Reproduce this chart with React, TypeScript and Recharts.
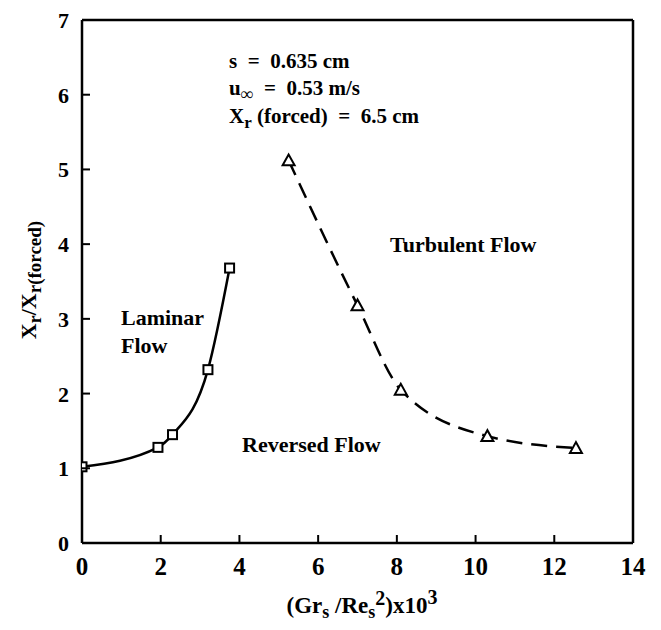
import { LineChart, Line, XAxis, YAxis, Customized } from 'recharts';

// laminar branch (squares, solid curve)
const laminarX = [0, 1.93, 2.3, 3.2, 3.75];
const laminarY = [1.02, 1.28, 1.45, 2.32, 3.68];

// turbulent branch (triangles, dashed curve)
const turbulentX = [5.25, 7.0, 8.1, 10.3, 12.55];
const turbulentY = [5.12, 3.18, 2.05, 1.43, 1.27];

const xTicks = [0, 2, 4, 6, 8, 10, 12, 14];
const yTicks = [0, 1, 2, 3, 4, 5, 6, 7];

const laminar = laminarX.map((x, i) => ({ x, y: laminarY[i] }));
const turbulent = turbulentX.map((x, i) => ({ x, y: turbulentY[i] }));

const FONT = '"Liberation Serif", "Times New Roman", serif';
const TICK_LEN = 8;

const textStyle = {
    fontFamily: FONT,
    fontWeight: 700,
    fill: '#000',
};

const SquareDot = (props: any) => {
    const { cx, cy } = props;
    if (cx == null || cy == null) return null;
    return (
        <rect
            x={cx - 4.5}
            y={cy - 4.5}
            width={9}
            height={9}
            fill="#fff"
            stroke="#000"
            strokeWidth={2}
        />
    );
};

const TriangleDot = (props: any) => {
    const { cx, cy } = props;
    if (cx == null || cy == null) return null;
    const s = 6;
    return (
        <polygon
            points={`${cx},${cy - s} ${cx - s},${cy + s * 0.8} ${cx + s},${cy + s * 0.8}`}
            fill="#fff"
            stroke="#000"
            strokeWidth={2}
        />
    );
};

const BottomTick = (props: any) => {
    const { x, y, payload } = props;
    return (
        <g>
            <line x1={x} y1={y} x2={x} y2={y - TICK_LEN} stroke="#000" strokeWidth={2} />
            <text x={x} y={y + 32} textAnchor="middle" fontSize={25} style={textStyle}>
                {payload.value}
            </text>
        </g>
    );
};

const TopTick = (props: any) => {
    const { x, y } = props;
    return <line x1={x} y1={y} x2={x} y2={y + TICK_LEN} stroke="#000" strokeWidth={2} />;
};

const LeftTick = (props: any) => {
    const { x, y, payload } = props;
    return (
        <g>
            <line x1={x} y1={y} x2={x + TICK_LEN} y2={y} stroke="#000" strokeWidth={2} />
            <text x={x - 13} y={y + 8} textAnchor="end" fontSize={22} style={textStyle}>
                {payload.value}
            </text>
        </g>
    );
};

const RightTick = (props: any) => {
    const { x, y } = props;
    return <line x1={x} y1={y} x2={x - TICK_LEN} y2={y} stroke="#000" strokeWidth={2} />;
};

const pre = { whiteSpace: 'pre' as const };

const Annotations = () => (
    <g fontFamily={FONT} fontWeight={700} fill="#000" fontSize={21}>
        <text x={229} y={68} style={pre} xmlSpace="preserve">s  =  0.635 cm</text>
        <text x={229} y={95} style={pre} xmlSpace="preserve">
            u<tspan fontSize={18} dy={5}>∞</tspan>
            <tspan dy={-5}>  =  0.53 m/s</tspan>
        </text>
        <text x={229} y={123} style={pre} xmlSpace="preserve">
            X<tspan fontSize={17} dy={5}>r</tspan>
            <tspan dy={-5}> (forced)  =  6.5 cm</tspan>
        </text>

        <g fontSize={22}>
            <text x={121} y={325}>Laminar</text>
            <text x={121} y={353}>Flow</text>
            <text x={242} y={452}>Reversed Flow</text>
            <text x={390} y={252}>Turbulent Flow</text>
        </g>

        {/* x axis title */}
        <text x={362} y={613} textAnchor="middle" fontSize={23}>
            (Gr<tspan fontSize={18} dy={5}>s</tspan>
            <tspan dy={-5} style={pre}> /Re</tspan>
            <tspan fontSize={18} dy={5}>s</tspan>
            <tspan fontSize={20} dy={-13}>2</tspan>
            <tspan dy={8}>)x10</tspan>
            <tspan fontSize={20} dy={-9}>3</tspan>
        </text>

        {/* y axis title */}
        <text x={36} y={280} textAnchor="middle" fontSize={22} transform="rotate(-90 36 280)">
            X<tspan fontSize={18} dy={5}>r</tspan>
            <tspan dy={-5}>/X</tspan>
            <tspan fontSize={19} dy={5}>r(forced)</tspan>
        </text>
    </g>
);

export default function App() {
    return (
        <div style={{ position: 'absolute', left: 0, top: 0, width: 661, height: 630, background: '#fff' }}>
            <LineChart
                width={661}
                height={630}
                margin={{ top: 12, right: 20, bottom: 47, left: 42 }}
            >
                <XAxis
                    type="number"
                    dataKey="x"
                    domain={[0, 14]}
                    ticks={xTicks}
                    allowDataOverflow
                    tickLine={false}
                    tickSize={0}
                    tickMargin={0}
                    tick={<BottomTick />}
                    axisLine={{ stroke: '#000', strokeWidth: 2.5 }}
                    height={40}
                    interval={0}
                />
                <XAxis
                    xAxisId="top"
                    orientation="top"
                    type="number"
                    domain={[0, 14]}
                    ticks={xTicks}
                    tickLine={false}
                    tickSize={0}
                    tickMargin={0}
                    tick={<TopTick />}
                    axisLine={{ stroke: '#000', strokeWidth: 2.5 }}
                    height={8}
                    interval={0}
                />
                <YAxis
                    type="number"
                    domain={[0, 7]}
                    ticks={yTicks}
                    allowDataOverflow
                    tickLine={false}
                    tickSize={0}
                    tickMargin={0}
                    tick={<LeftTick />}
                    axisLine={{ stroke: '#000', strokeWidth: 2.5 }}
                    width={40}
                    interval={0}
                />
                <YAxis
                    yAxisId="right"
                    orientation="right"
                    type="number"
                    domain={[0, 7]}
                    ticks={yTicks}
                    tickLine={false}
                    tickSize={0}
                    tickMargin={0}
                    tick={<RightTick />}
                    axisLine={{ stroke: '#000', strokeWidth: 2.5 }}
                    width={8}
                    interval={0}
                />
                <Line
                    data={laminar}
                    dataKey="y"
                    type="monotone"
                    stroke="#000"
                    strokeWidth={2.5}
                    dot={<SquareDot />}
                    activeDot={false}
                    isAnimationActive={false}
                />
                <Line
                    data={turbulent}
                    dataKey="y"
                    type="monotone"
                    stroke="#000"
                    strokeWidth={2.5}
                    strokeDasharray="16 9"
                    dot={<TriangleDot />}
                    activeDot={false}
                    isAnimationActive={false}
                />
                <Customized component={Annotations} />
            </LineChart>
        </div>
    );
}
